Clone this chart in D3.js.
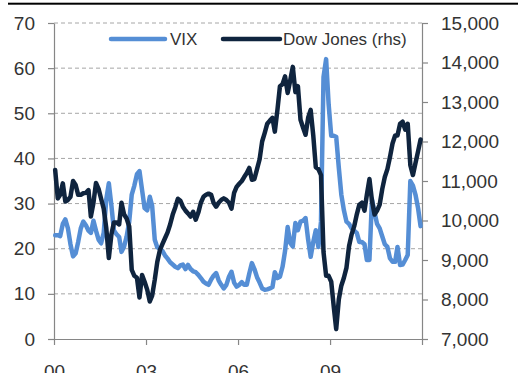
<!DOCTYPE html>
<html>
<head>
<meta charset="utf-8">
<script src="https://cdn.jsdelivr.net/npm/d3@7"></script>
<style>
html, body { margin: 0; padding: 0; background: #fff; }
svg { display: block; font-family: "Liberation Sans", Arial, sans-serif; }
</style>
</head>
<body>
<script>
// monthly averages, Jan 2000 .. Dec 2011
const vix = [
  23, 23, 22.8, 25.5, 26.5, 24.5, 21, 18.3, 19, 21.5, 24.5, 26,
  25.2, 24, 23.5, 26.2, 24, 22, 21.2, 23.5, 31, 34.5, 29.5, 24,
  23.2, 22.6, 19.3, 20.5, 22.7, 26, 32, 34, 36.5, 37.2, 33, 29,
  28.5, 31.5, 29.5, 22, 20.3, 20, 19.5, 18.5, 17.8, 17, 16.5, 16,
  15.7, 16.3, 16.5, 15.5, 16.4, 15.5, 15, 14.8, 14.2, 13.5, 12.7, 12.3,
  12, 13.2, 14, 14.6, 13, 12, 11.2, 12, 13.8, 14.9, 12.5, 11.6,
  12, 12.6, 12, 12, 14.5, 16.8, 15.5, 13.7, 12.5, 11.2, 10.9, 11,
  11.2, 11.5, 14.8, 13.5, 13.8, 16, 19.5, 24.8, 21.3, 20.5, 25.7, 24.1,
  26, 26.2, 26.8, 22, 18.2, 21.5, 24.1, 20.4, 26, 58, 62, 52,
  45, 45, 44.8, 38, 32, 28.5, 26, 25.5, 24.5, 24, 23.5, 21.5,
  21.5, 21, 17.5, 17.5, 31, 28, 25.5, 24.5, 22.7, 21, 20.4, 17.9,
  17.1, 17.1, 20.4, 16.4, 16.5, 17.5, 18.6, 35, 34, 32, 29, 25
];
const dow = [
  11280, 10560, 10650, 10940, 10480, 10520, 10600, 11000, 10900, 10650, 10650, 10690,
  10700, 10770, 10100, 10450, 10950, 10800, 10550, 10300, 9800, 9050, 9650, 9950,
  9950, 9900, 10450, 10150, 10050, 9850, 8750, 8600, 8550, 8050, 8620, 8450,
  8250, 7950, 8100, 8500, 8950, 9250, 9400, 9550, 9700, 9900, 10150, 10330,
  10550, 10500, 10350, 10250, 10180, 10100, 10220, 10020, 10200, 10450, 10600, 10650,
  10680, 10650, 10450, 10350, 10450, 10520, 10560, 10520, 10450, 10300, 10700, 10850,
  10930, 11000, 11100, 11200, 11330, 11030, 11050, 11300, 11550, 12000, 12220, 12450,
  12530, 12600, 12250, 12800, 13400, 13450, 13650, 13230, 13550, 13890, 13250, 13400,
  12550, 12350, 12170, 12600, 12800, 12150, 11350, 11300, 11150, 9200, 8600, 8600,
  8450, 7800, 7250, 8000, 8350, 8550, 8800, 9350, 9650, 9850, 10150, 10400,
  10450, 10250, 10650, 11050, 10500, 10150, 10250, 10400, 10800, 11100, 11300, 11600,
  11950, 12150, 12150, 12450, 12500, 12300, 12450, 11400, 11150, 11450, 11750, 12050
];
const months = d3.range(vix.length).map(i => new Date(2000, i, 15));

const leftTicks = [0, 10, 20, 30, 40, 50, 60, 70];
const rightTicks = [7000, 8000, 9000, 10000, 11000, 12000, 13000, 14000, 15000];
const yearTicks = [2000, 2003, 2006, 2009, 2012];
const yearLabels = ["00", "03", "06", "09", ""];
const seriesNames = ["VIX", "Dow Jones (rhs)"];

const W = 518, H = 373;
const L = 54, R = 422, T = 23, B = 339;
const vixColor = "#558ed5", dowColor = "#0f243e";
const axisColor = "#868686", textColor = "#333";

const svg = d3.select("body").append("svg").attr("width", W).attr("height", H);
svg.append("rect").attr("width", W).attr("height", H).attr("fill", "#fff");

// thin black rule at the very top
svg.append("rect").attr("x", 8).attr("y", 2.7).attr("width", W - 8).attr("height", 2).attr("fill", "#000");

const x = d3.scaleTime().domain([new Date(2000, 0, 1), new Date(2012, 0, 1)]).range([L, R]);
const yL = d3.scaleLinear().domain([0, 70]).range([B, T]);
const yR = d3.scaleLinear().domain([7000, 15000]).range([B, T]);

// gridlines
svg.append("g").selectAll("line").data(leftTicks.filter(d => d > 0)).enter().append("line")
  .attr("x1", L).attr("x2", R)
  .attr("y1", d => yL(d)).attr("y2", d => yL(d))
  .attr("stroke", "#a6a6a6").attr("stroke-width", 1).attr("stroke-dasharray", "4,3");

function styleAxis(g) {
  g.select(".domain").attr("stroke", axisColor).attr("stroke-width", 1.2);
  g.selectAll(".tick line").attr("stroke", axisColor).attr("stroke-width", 1.2);
  g.selectAll(".tick text").attr("fill", textColor).style("font-size", "19px")
    .style("font-family", "'Liberation Sans', Arial, sans-serif");
}

svg.append("g").attr("transform", `translate(${L},0)`)
  .call(d3.axisLeft(yL).tickValues(leftTicks).tickSize(6).tickSizeOuter(0).tickPadding(13))
  .call(styleAxis);

svg.append("g").attr("transform", `translate(${R},0)`)
  .call(d3.axisRight(yR).tickValues(rightTicks).tickSize(6).tickSizeOuter(0).tickPadding(13)
    .tickFormat(d3.format(",")))
  .call(styleAxis);

svg.append("g").attr("transform", `translate(0,${B})`)
  .call(d3.axisBottom(x).tickValues(yearTicks.map(y => new Date(y, 0, 1)))
    .tickSize(6).tickSizeOuter(0).tickPadding(20)
    .tickFormat((d, i) => yearLabels[i]))
  .call(styleAxis);

const vixLine = d3.line().x((d, i) => x(months[i])).y(d => yL(d));
const dowLine = d3.line().x((d, i) => x(months[i])).y(d => yR(d));

svg.append("path").datum(vix).attr("d", vixLine)
  .attr("fill", "none").attr("stroke", vixColor).attr("stroke-width", 4.5)
  .attr("stroke-linejoin", "round").attr("stroke-linecap", "round");

svg.append("path").datum(dow).attr("d", dowLine)
  .attr("fill", "none").attr("stroke", dowColor).attr("stroke-width", 4.5)
  .attr("stroke-linejoin", "round").attr("stroke-linecap", "round");

// legend
const legend = [
  { name: seriesNames[0], color: vixColor, x1: 111, x2: 165, tx: 170 },
  { name: seriesNames[1], color: dowColor, x1: 223, x2: 280, tx: 283 }
];
const lg = svg.append("g").selectAll("g").data(legend).enter().append("g");
lg.append("line")
  .attr("x1", d => d.x1).attr("x2", d => d.x2).attr("y1", 39).attr("y2", 39)
  .attr("stroke", d => d.color).attr("stroke-width", 4.5).attr("stroke-linecap", "round");
lg.append("text")
  .attr("x", d => d.tx).attr("y", 39).attr("dy", "0.35em")
  .attr("fill", textColor).style("font-size", "17px")
  .text(d => d.name);
</script>
</body>
</html>
